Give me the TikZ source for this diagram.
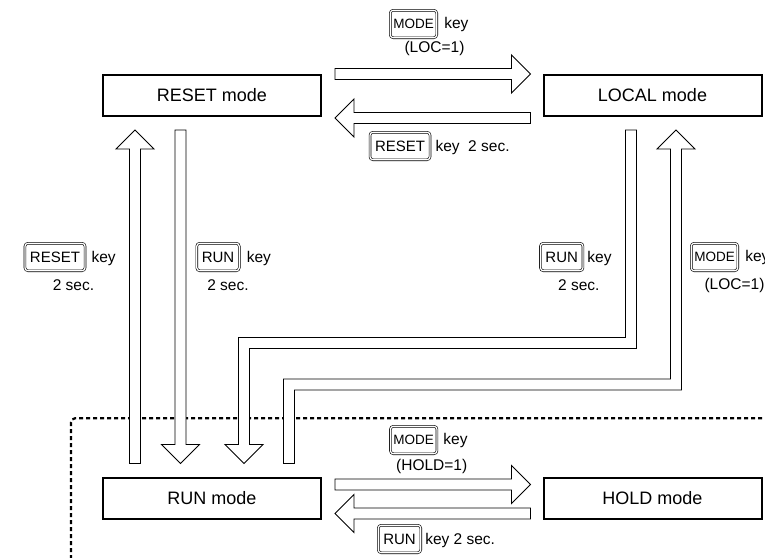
\documentclass[tikz,border=0pt]{standalone}
\usepackage{fontspec}
\setmainfont{Liberation Sans}
\usetikzlibrary{calc,positioning}

\begin{document}
\begin{tikzpicture}[x=1pt,y=-1pt,
        modebox/.style={draw,line width=2pt,outer sep=0pt,minimum width=218pt,minimum height=41pt,font=\fontsize{18}{20}\selectfont},
        keycap/.style={draw,double,double distance=1.3pt,line width=0.6pt,rounded corners=3pt,inner xsep=5pt,inner ysep=0pt,minimum height=27.5pt,font=\fontsize{15}{16}\selectfont},
        modecap/.style={keycap,inner xsep=3pt,font=\fontsize{13.5}{14}\selectfont},
        lbl/.style={inner sep=1pt,font=\fontsize{15.5}{17}\selectfont},
        arrowline/.style={draw,fill=white,line width=0.9pt},
        blockarrow/.style={arrowline,to path={
            let \p1=($(\tikztotarget)-(\tikztostart)$),\n1={veclen(\x1,\y1)},\n2={atan2(\y1,\x1)} in
            ([shift={(\tikztostart)},rotate=\n2]0,5.5) -- ([shift={(\tikztostart)},rotate=\n2]\n1-19,5.5)
            -- ([shift={(\tikztostart)},rotate=\n2]\n1-19,19) -- ([shift={(\tikztostart)},rotate=\n2]\n1,0)
            -- ([shift={(\tikztostart)},rotate=\n2]\n1-19,-19) -- ([shift={(\tikztostart)},rotate=\n2]\n1-19,-5.5)
            -- ([shift={(\tikztostart)},rotate=\n2]0,-5.5) -- cycle}},
        holdframe/.style={line width=2.2pt,dash pattern=on 4pt off 3pt,rounded corners=4pt}]

    \useasboundingbox (0,0) rectangle (765,557);
    \clip (0,0) rectangle (765,557);

    \node[modebox] (reset) at (212,95.5) {RESET mode};
    \node[modebox] (local) at (652.5,95.5) {LOCAL mode};
    \node[modebox] (run) at (212,498.5) {RUN mode};
    \node[modebox] (hold) at (652.5,498.5) {HOLD mode};

    \draw[holdframe] (71,580) |- (790,418.3);

    \draw[blockarrow] ([xshift=14pt,yshift=1pt]reset.north east) to ([xshift=-13pt,yshift=1pt]local.north west);
    \draw[blockarrow] ([xshift=-13pt,yshift=-2pt]local.south west) to ([xshift=14pt,yshift=-2pt]reset.south east);
    \draw[blockarrow] ([xshift=32pt,yshift=14.5pt]run.north west) to ([xshift=32pt,yshift=-14pt]reset.south west);
    \draw[blockarrow] ([xshift=77.5pt,yshift=-14pt]reset.south west) to ([xshift=77.5pt,yshift=14.5pt]run.north west);
    \draw[blockarrow] ([xshift=14pt,yshift=14pt]run.east) to ([xshift=-13pt,yshift=14pt]hold.west);
    \draw[blockarrow] ([xshift=-13pt,yshift=-15pt]hold.west) to ([xshift=14pt,yshift=-15pt]run.east);

    \coordinate (lrtop) at ([xshift=87.5pt,yshift=-14pt]local.south west);
    \coordinate (lrtip) at ([xshift=141pt,yshift=14.5pt]run.north west);
    \coordinate (lrbend) at ([yshift=120.5pt]lrtip);
    \draw[arrowline] ($(lrtop)+(5.5,0)$) |- ($(lrbend)+(5.5,5.5)$) -- ($(lrtip)+(5.5,-19)$) -- ++(13.5,0) -- (lrtip)
        -- ++(-19,-19) -- ++(13.5,0) |- ($(lrbend)+(-5.5,-5.5)$) -| ($(lrtop)+(-5.5,0)$) -- cycle;

    \coordinate (rlbot) at ([xshift=186pt,yshift=14.5pt]run.north west);
    \coordinate (rltip) at ([xshift=132.5pt,yshift=-14pt]local.south west);
    \coordinate (rlbend) at ([yshift=79pt]rlbot);
    \draw[arrowline] ($(rlbot)+(-5.5,0)$) |- ($(rlbend)+(-5.5,-5.5)$) -| ($(rltip)+(-5.5,19)$) -- ++(-13.5,0) -- (rltip)
        -- ++(19,19) -- ++(-13.5,0) |- ($(rlbend)+(5.5,5.5)$) -- ($(rlbot)+(5.5,0)$) -- cycle;

    \node[modecap] (loccap) at (413.5,24) {MODE};
    \node[lbl,right=6pt of loccap.base east,anchor=base west] (lockey) {key};
    \node[lbl] (loc) at (434.5,48) {(LOC=1)};

    \node[keycap] (rstcap) at (400,146) {RESET};
    \node[lbl,right=4pt of rstcap.base east,anchor=base west] (rstkey) {key\ \ 2 sec.};

    \node[keycap] (rstcap2) at (55,257) {RESET};
    \node[lbl,right=5pt of rstcap2.base east,anchor=base west] (rstkey2) {key};
    \node[lbl] (rstsec2) at (73.5,285) {2 sec.};

    \node[keycap] (runcap) at (218,257) {RUN};
    \node[lbl,right=6pt of runcap.base east,anchor=base west] (runkey) {key};
    \node[lbl] (runsec) at (228,285) {2 sec.};

    \node[keycap] (runcap2) at (561.7,257) {RUN};
    \node[lbl,right=3pt of runcap2.base east,anchor=base west] (runkey2) {key};
    \node[lbl] (runsec2) at (578.8,285) {2 sec.};

    \node[modecap] (loccap2) at (714.5,257) {MODE};
    \node[lbl,right=6pt of loccap2.base east,anchor=base west] (lockey2) {key};
    \node[lbl] (loc2) at (734.5,285) {(LOC=1)};

    \node[modecap] (holdcap) at (413.7,440) {MODE};
    \node[lbl,right=5pt of holdcap.base east,anchor=base west] (holdkey) {key};
    \node[lbl] (holdval) at (431.7,466.7) {(HOLD=1)};

    \node[keycap] (runcap3) at (399.5,539) {RUN};
    \node[lbl,right=3pt of runcap3.base east,anchor=base west] (runkey3) {key 2 sec.};
\end{tikzpicture}
\end{document}
